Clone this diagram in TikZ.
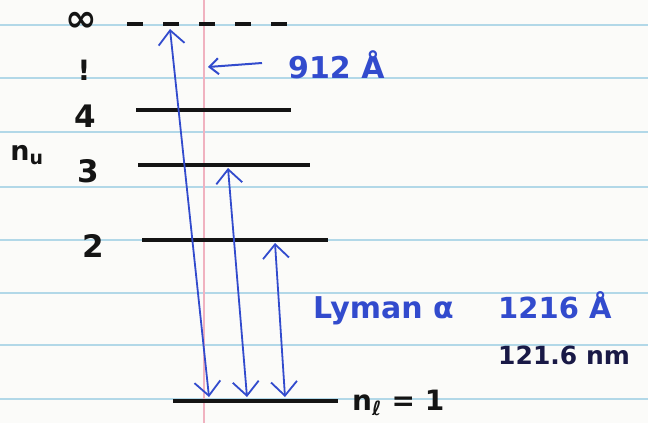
\documentclass[tikz,border=0pt]{standalone}
\usepackage{fontspec}
\setmainfont{DejaVu Sans}
\usetikzlibrary{arrows.meta}
\definecolor{ink}{RGB}{20,20,20}
\definecolor{pen}{RGB}{50,75,205}
\definecolor{navy}{RGB}{25,25,70}
\definecolor{rule}{RGB}{178,216,232}
\definecolor{marginc}{RGB}{240,178,192}
\definecolor{paper}{RGB}{251,251,249}
\begin{document}
\begin{tikzpicture}[x=1pt,y=-1pt,
  level/.style={draw=ink, line width=4pt},
  trans/.style={draw=pen, line width=1.8pt, {Straight Barb[length=14pt,width=26pt]}-{Straight Barb[length=14pt,width=26pt]}},
  lab/.style={text=ink, inner sep=0pt, font=\bfseries\fontsize{31}{34}\selectfont},
  bluetxt/.style={text=pen, inner sep=0pt, font=\bfseries\fontsize{30}{34}\selectfont},
]
\fill[paper] (0,0) rectangle (648,423);
\useasboundingbox (0,0) rectangle (648,423);
\foreach \y in {25,78,132,187,240,293,345,399}
  \draw[rule, line width=1.8pt] (0,\y) -- (648,\y);
\draw[marginc, line width=1.5pt] (204,0) -- (204,423);
% levels
\coordinate (infL) at (127,24); \coordinate (infR) at (287,24);
\coordinate (l4L) at (136,110); \coordinate (l4R) at (291,110);
\coordinate (l3L) at (138,165); \coordinate (l3R) at (310,165);
\coordinate (l2L) at (142,240); \coordinate (l2R) at (328,240);
\coordinate (l1L) at (173,401); \coordinate (l1R) at (338,401);
\draw[level, dash pattern=on 16pt off 20pt] (infL) -- (infR);
\draw[level] (l4L) -- (l4R);
\draw[level] (l3L) -- (l3R);
\draw[level] (l2L) -- (l2R);
\draw[level] (l1L) -- (l1R);
% transitions
\coordinate (a1t) at (170,29); \coordinate (a1b) at (209,397);
\coordinate (a2t) at (228,168); \coordinate (a2b) at (247,397);
\coordinate (a3t) at (275,243); \coordinate (a3b) at (285,397);
\draw[trans] (a1t) -- (a1b);
\draw[trans] (a2t) -- (a2b);
\draw[trans] (a3t) -- (a3b);
\coordinate (s912) at (262,63); \coordinate (e912) at (208,67);
\draw[pen, line width=2pt, -{Straight Barb[length=9pt,width=16pt]}] (s912) -- (e912);
% labels
\node[lab, font=\bfseries\fontsize{38}{40}\selectfont] (inf) at (81,22) {∞};
\node[lab, font=\bfseries\fontsize{28}{28}\selectfont] (dots) at (84,70) {!};
\node[lab] (n4) at (85,116) {4};
\node[lab, font=\bfseries\fontsize{27}{28}\selectfont] (nu) at (27,155) {n\textsubscript{u}};
\node[lab] (n3) at (88,171) {3};
\node[lab] (n2) at (93,246) {2};
\node[bluetxt, anchor=base west] (w912) at (288,78) {912 Å};
\node[bluetxt, anchor=base west] (lyman) at (313,318) {Lyman α};
\node[bluetxt, anchor=base west, font=\bfseries\fontsize{29}{34}\selectfont] (w1216) at (498,318) {1216 Å};
\node[lab, text=navy, anchor=base west, font=\bfseries\fontsize{25}{26}\selectfont] (nm) at (498,364) {121.6 nm};
\node[lab, anchor=base west, font=\bfseries\fontsize{28}{30}\selectfont] (nl) at (352,410) {n\textsubscript{ℓ} = 1};
\end{tikzpicture}
\end{document}
